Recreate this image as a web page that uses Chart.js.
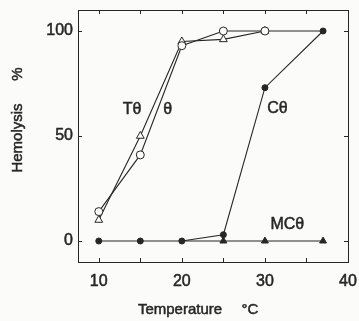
<!DOCTYPE html>
<html>
<head>
<meta charset="utf-8">
<script src="https://cdn.jsdelivr.net/npm/chart.js@4/dist/chart.umd.min.js"></script>
<style>
  html, body { margin: 0; padding: 0; background: #fbfbf9; }
  #wrap { width: 359px; height: 321px; }
</style>
</head>
<body>
<div id="wrap"><canvas id="chart" width="359" height="321"></canvas></div>
<script>
// Temperature (°C) for each series
const thetaTemps = [10, 15, 20, 25, 30, 37];
const thetaValues = [14, 41, 93, 100, 100, 100];

const tThetaTemps = [10, 15, 20, 25, 30];
const tThetaValues = [10, 50, 95, 96, 100];

const cThetaTemps = [10, 15, 20, 25, 30, 37];
const cThetaValues = [0, 0, 0, 3, 73, 100];

const mcThetaTemps = [20, 25, 30, 37];
const mcThetaValues = [0, 0, 0, 0];

// Axis ticks
const xTicks = [10, 15, 20, 25, 30, 35, 40];
const xTickLabels = ['10', '', '20', '', '30', '', '40'];
const yTicks = [0, 50, 100];

// Series labels written next to the curves [text, x, y]
const curveLabels = [
  ['Tθ', 14.0, 62.7],
  ['θ', 18.3, 62.7],
  ['Cθ', 31.5, 63],
  ['MCθ', 32.7, 8]
];

const INK = '#262626';
const BG = '#fbfbf9';
const FONT = '"Liberation Sans", Arial, sans-serif';

function toXY(xs, ys) {
  return xs.map((x, i) => ({ x: x, y: ys[i] }));
}

// text with a hair of stroke, the scan looks heavier than plain Arial
function inkText(ctx, t, x, y) {
  ctx.strokeText(t, x, y);
  ctx.fillText(t, x, y);
}

// Frame, inward ticks on all four sides, and text annotations
const framePlugin = {
  id: 'frame',
  afterDraw(chart) {
    const ctx = chart.ctx;
    const a = chart.chartArea;
    const xs = chart.scales.x;
    const ys = chart.scales.y;
    const tl = 4;
    ctx.save();
    ctx.strokeStyle = INK;
    ctx.lineWidth = 1;
    ctx.strokeRect(a.left + 0.5, a.top + 0.5, a.right - a.left, a.bottom - a.top);
    ctx.beginPath();
    xTicks.forEach(v => {
      const px = Math.round(xs.getPixelForValue(v)) + 0.5;
      ctx.moveTo(px, a.bottom);
      ctx.lineTo(px, a.bottom - tl);
      ctx.moveTo(px, a.top);
      ctx.lineTo(px, a.top + tl);
    });
    yTicks.forEach(v => {
      const py = Math.round(ys.getPixelForValue(v)) + 0.5;
      ctx.moveTo(a.left, py);
      ctx.lineTo(a.left + tl, py);
      ctx.moveTo(a.right, py);
      ctx.lineTo(a.right - tl, py);
    });
    ctx.stroke();

    ctx.fillStyle = INK;
    ctx.lineWidth = 0.5;
    ctx.textAlign = 'center';
    ctx.textBaseline = 'middle';
    ctx.font = '16px ' + FONT;
    curveLabels.forEach(([t, x, y]) => {
      inkText(ctx, t, xs.getPixelForValue(x), ys.getPixelForValue(y));
    });

    // axis titles
    ctx.font = '15px ' + FONT;
    inkText(ctx, 'Temperature', 180, 310);
    inkText(ctx, '°C', 250, 310);
    ctx.translate(18, 0);
    ctx.rotate(-Math.PI / 2);
    inkText(ctx, 'Hemolysis', -138, 0);
    inkText(ctx, '%', -74, 0);
    ctx.restore();
  }
};

const common = {
  borderColor: INK,
  borderWidth: 1.1,
  tension: 0,
  showLine: true,
  pointBorderColor: INK,
  pointBorderWidth: 1
};

new Chart(document.getElementById('chart'), {
  type: 'scatter',
  data: {
    datasets: [
      Object.assign({}, common, {
        label: 'Cθ',
        data: toXY(cThetaTemps, cThetaValues),
        pointStyle: 'circle',
        pointRadius: 3,
        pointBackgroundColor: INK,
        order: 1
      }),
      Object.assign({}, common, {
        label: 'MCθ',
        data: toXY(mcThetaTemps, mcThetaValues),
        pointStyle: 'triangle',
        pointRadius: [0, 4, 4, 4],
        pointBackgroundColor: INK,
        order: 2
      }),
      Object.assign({}, common, {
        label: 'θ',
        data: toXY(thetaTemps, thetaValues),
        pointStyle: 'circle',
        pointRadius: [4, 4, 4, 4, 4, 0],
        pointBackgroundColor: BG,
        order: 3
      }),
      Object.assign({}, common, {
        label: 'Tθ',
        data: toXY(tThetaTemps, tThetaValues),
        pointStyle: 'triangle',
        pointRadius: 4.5,
        pointBackgroundColor: BG,
        order: 4
      })
    ]
  },
  options: {
    responsive: false,
    animation: false,
    layout: { padding: { left: 0, right: 11, top: 10, bottom: 0 } },
    plugins: {
      legend: { display: false },
      tooltip: { enabled: false }
    },
    scales: {
      x: {
        type: 'linear',
        min: 7.5,
        max: 40,
        border: { display: false },
        grid: { display: false, drawTicks: false },
        afterBuildTicks: (s) => { s.ticks = xTicks.map(v => ({ value: v })); },
        afterFit: (s) => { s.height = 59; s.paddingLeft = 0; s.paddingRight = 0; },
        ticks: {
          color: INK,
          padding: 10,
          maxRotation: 0,
          autoSkip: false,
          textStrokeColor: INK,
          textStrokeWidth: 0.5,
          font: { family: FONT, size: 16 },
          callback: (v) => xTickLabels[xTicks.indexOf(v)]
        }
      },
      y: {
        min: -10,
        max: 110,
        border: { display: false },
        grid: { display: false, drawTicks: false },
        afterBuildTicks: (s) => { s.ticks = yTicks.map(v => ({ value: v })); },
        afterFit: (s) => { s.width = 78; s.paddingTop = 0; s.paddingBottom = 0; },
        ticks: {
          color: INK,
          padding: 5,
          autoSkip: false,
          textStrokeColor: INK,
          textStrokeWidth: 0.5,
          font: { family: FONT, size: 16 }
        }
      }
    }
  },
  plugins: [framePlugin]
});
</script>
</body>
</html>
